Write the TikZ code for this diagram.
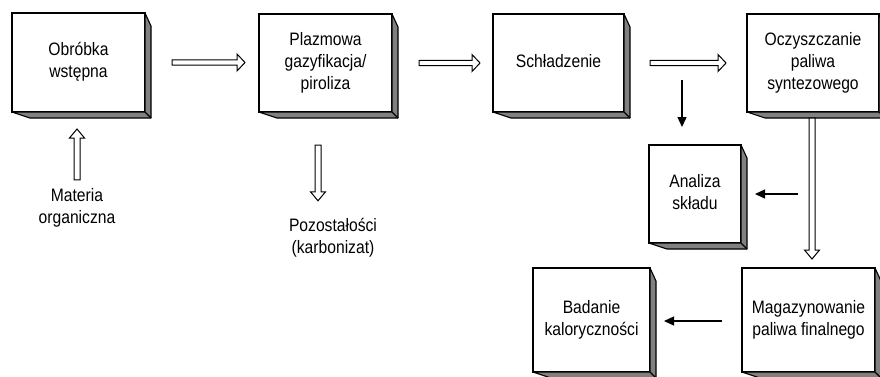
\documentclass[tikz,border=0pt]{standalone}
\usepackage{fontspec}
\setmainfont{Liberation Sans}
\usepackage{graphicx}
\usetikzlibrary{calc,arrows.meta}
\newcommand\lbl[1]{\scalebox{0.87}[1]{\begin{tabular}{@{}c@{}}#1\end{tabular}}}
\tikzset{
  cube/.style={draw=black, line width=1.3pt, fill=white, inner sep=0pt, outer sep=0pt,
    font=\fontsize{18}{22}\selectfont},
  side/.style={draw=black, line width=1.1pt, fill=gray, line join=round},
  hollow/.style={draw=black, line width=1pt, fill=white, line join=miter},
  solidarr/.style={draw=black, line width=1.3pt, -{Triangle[length=10pt,width=9pt]}},
  plain/.style={inner sep=0pt, font=\fontsize{18}{22}\selectfont}
}
\newcommand\cubebox[6]{%
  \node[cube, minimum width=#4pt, minimum height=#5pt] (#1) at (#2,#3) {\lbl{#6}};
  \draw[side] (#1.south west) -- ++(18pt,-6pt) -- ($(#1.south east)+(6pt,-6pt)$)
    -- ($(#1.north east)+(6pt,-13pt)$) -- (#1.north east) -- (#1.south east) -- cycle;
  \draw[side] (#1.south east) -- ++(6pt,-6pt);
}
\newcommand\hright[2]{\draw[hollow] let \p1=(#1), \p2=(#2) in
  (\x1,\y1+2.7pt) -- (\x2-8pt,\y1+2.7pt) -- (\x2-8pt,\y1+8.5pt) -- (\x2,\y1)
  -- (\x2-8pt,\y1-8.5pt) -- (\x2-8pt,\y1-2.7pt) -- (\x1,\y1-2.7pt) -- cycle;}
\newcommand\hdown[2]{\draw[hollow] let \p1=(#1), \p2=(#2) in
  (\x1-3pt,\y1) -- (\x1-3pt,\y2+9pt) -- (\x1-7.5pt,\y2+9pt) -- (\x1,\y2)
  -- (\x1+7.5pt,\y2+9pt) -- (\x1+3pt,\y2+9pt) -- (\x1+3pt,\y1) -- cycle;}
\newcommand\hup[2]{\draw[hollow] let \p1=(#1), \p2=(#2) in
  (\x1-3pt,\y1) -- (\x1-3pt,\y2-9pt) -- (\x1-7.5pt,\y2-9pt) -- (\x1,\y2)
  -- (\x1+7.5pt,\y2-9pt) -- (\x1+3pt,\y2-9pt) -- (\x1+3pt,\y1) -- cycle;}
\begin{document}
\begin{tikzpicture}[x=1pt,y=-1pt]
\useasboundingbox (0,0) rectangle (880,376);
% boxes
\cubebox{b1}{78.5}{62.5}{133}{99}{Obróbka\\wstępna}
\cubebox{b2}{325.5}{63}{133}{98}{Plazmowa\\gazyfikacja/\\piroliza}
\cubebox{b3}{558.5}{63}{131}{98}{Schładzenie}
\cubebox{b4}{813}{63}{132}{98}{Oczyszczanie\\paliwa\\syntezowego}
\cubebox{b5}{695}{194}{92}{98}{Analiza\\składu}
\cubebox{b6}{591.5}{320}{117}{104}{Badanie\\kaloryczności}
\cubebox{b7}{808.5}{320}{133}{104}{Magazynowanie\\paliwa finalnego}
% free labels
\node[plain] (mat) at (77,208) {\lbl{Materia\\organiczna}};
\node[plain] (poz) at (333,238) {\lbl{Pozostałości\\(karbonizat)}};
% hollow arrows
\hright{$(b1.east)+(27pt,0)$}{$(b2.west)+(-14pt,0)$}
\hright{$(b2.east)+(27pt,0)$}{$(b3.west)+(-13pt,0)$}
\hright{$(b3.east)+(26pt,0)$}{$(b4.west)+(-21pt,0)$}
\hup{$(mat.north)+(0,6pt)$}{$(b1.south)+(-1.5pt,-17pt)$}
\hdown{$(b2.south)+(-7.5pt,-33pt)$}{$(poz.north)+(-15pt,15pt)$}
\hdown{$(b4.south)+(-1pt,-6pt)$}{$(b7.north)+(3.5pt,9pt)$}
% solid arrows
\coordinate (s1) at ($(b3.east)+(58pt,-17pt)$);
\draw[solidarr] (s1) -- ($(b5.north)+(-13pt,18pt)$);
\draw[solidarr] ($(b5.east)+(57pt,0)$) -- ($(b5.east)+(14pt,0)$);
\draw[solidarr] ($(b7.west)+(-20pt,-1pt)$) -- ($(b6.east)+(14pt,-1pt)$);
\end{tikzpicture}
\end{document}
